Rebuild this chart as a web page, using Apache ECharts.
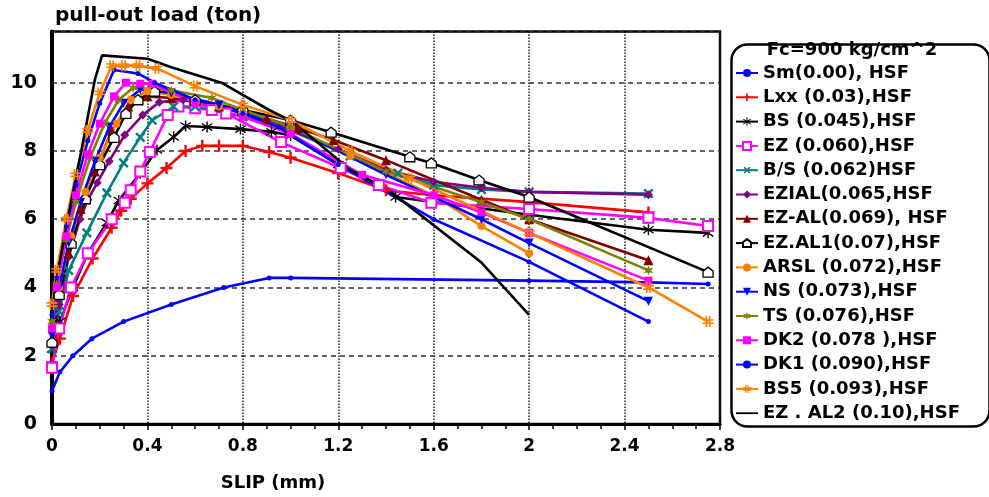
<!DOCTYPE html>
<html>
<head>
<meta charset="utf-8">
<script src="https://cdn.jsdelivr.net/npm/echarts@6/dist/echarts.min.js"></script>
<style>
html,body{margin:0;padding:0;background:#fff;}
#chart{width:989px;height:497px;}
</style>
</head>
<body>
<div id="chart"></div>
<script>
// ---- data: [slip (mm), load (ton)] ----
const names = ['Sm(0.00), HSF','Lxx (0.03),HSF','BS (0.045),HSF','EZ (0.060),HSF','B/S (0.062)HSF','EZIAL(0.065,HSF','EZ-AL(0.069), HSF','EZ.AL1(0.07),HSF','ARSL (0.072),HSF','NS (0.073),HSF','TS (0.076),HSF','DK2 (0.078 ),HSF','DK1 (0.090),HSF','BS5 (0.093),HSF','EZ . AL2 (0.10),HSF'];
const sm    = [[0,0.97],[0.033,1.52],[0.088,2.0],[0.167,2.5],[0.3,3.0],[0.5,3.5],[0.72,4.0],[0.91,4.28],[1.0,4.28],[2.0,4.2],[2.5,4.15],[2.75,4.1]];
const lxx   = [[0,1.8],[0.033,2.5],[0.088,3.75],[0.17,4.85],[0.25,5.75],[0.29,6.25],[0.33,6.6],[0.4,7.05],[0.48,7.5],[0.56,8.0],[0.63,8.15],[0.7,8.15],[0.8,8.15],[0.91,7.97],[1.0,7.8],[1.2,7.35],[1.4,6.85],[1.6,6.7],[2.0,6.5],[2.5,6.2]];
const bs    = [[0,2.2],[0.033,3.0],[0.088,4.0],[0.15,5.0],[0.23,5.9],[0.28,6.55],[0.37,7.35],[0.44,8.03],[0.51,8.41],[0.56,8.73],[0.65,8.7],[0.79,8.64],[0.92,8.56],[1.0,8.45],[1.2,7.6],[1.44,6.65],[2.0,6.13],[2.5,5.69],[2.75,5.6]];
const ez    = [[0,1.65],[0.03,2.8],[0.08,4.0],[0.15,5.0],[0.25,6.0],[0.305,6.48],[0.33,6.85],[0.37,7.4],[0.41,7.97],[0.485,9.05],[0.53,9.3],[0.6,9.25],[0.67,9.2],[0.73,9.1],[0.96,8.26],[1.21,7.5],[1.37,7.0],[1.59,6.48],[2.0,6.3],[2.5,6.04],[2.75,5.8]];
const bslash= [[0,2.2],[0.03,3.3],[0.07,4.5],[0.146,5.6],[0.23,6.77],[0.3,7.65],[0.37,8.4],[0.42,8.9],[0.51,9.3],[0.6,9.3],[0.8,9.0],[1.0,8.6],[1.25,7.85],[1.45,7.35],[1.6,7.0],[1.8,6.87],[2.0,6.8],[2.5,6.75]];
const ezial = [[0,2.3],[0.03,3.5],[0.07,4.9],[0.117,6.0],[0.15,6.57],[0.19,7.07],[0.24,7.7],[0.305,8.47],[0.38,9.05],[0.45,9.43],[0.55,9.5],[0.7,9.3],[0.9,8.9],[1.2,8.05],[1.4,7.45],[1.6,7.1],[1.8,6.92],[2.0,6.8],[2.5,6.72]];
const ezal  = [[0,2.5],[0.03,3.8],[0.07,5.0],[0.12,6.3],[0.18,7.4],[0.25,8.6],[0.32,9.3],[0.4,9.6],[0.5,9.55],[0.7,9.3],[0.9,8.95],[1.03,8.67],[1.18,8.32],[1.4,7.73],[1.8,6.57],[2.0,6.0],[2.5,4.8]];
const ezal1 = [[0,2.4],[0.03,3.8],[0.08,5.3],[0.14,6.6],[0.2,7.6],[0.26,8.4],[0.31,9.1],[0.36,9.5],[0.43,9.75],[0.6,9.5],[0.8,9.2],[1.0,8.9],[1.17,8.55],[1.5,7.83],[1.59,7.65],[1.79,7.15],[2.0,6.65],[2.75,4.45]];
const arsl  = [[0,2.7],[0.03,4.0],[0.08,5.5],[0.14,6.8],[0.2,7.8],[0.27,8.8],[0.33,9.5],[0.4,9.75],[0.5,9.65],[0.7,9.3],[1.0,8.7],[1.25,7.85],[1.6,6.7],[1.8,5.8],[2.0,5.0]];
const ns    = [[0,2.6],[0.03,4.0],[0.07,5.3],[0.12,6.5],[0.18,7.7],[0.24,8.7],[0.3,9.4],[0.37,9.8],[0.5,9.7],[0.7,9.35],[1.0,8.7],[1.4,7.3],[1.8,6.0],[2.0,5.3],[2.5,3.6]];
const ts    = [[0,3.0],[0.02,4.1],[0.06,5.4],[0.1,6.5],[0.16,7.8],[0.22,8.8],[0.28,9.5],[0.34,9.85],[0.5,9.78],[0.67,9.55],[0.8,9.2],[1.0,8.7],[1.4,7.4],[1.8,6.5],[2.0,6.0],[2.5,4.5]];
const dk2   = [[0,2.8],[0.02,4.0],[0.06,5.5],[0.1,6.7],[0.15,7.9],[0.2,8.8],[0.26,9.6],[0.31,10.0],[0.37,9.97],[0.42,9.97],[0.6,9.4],[0.8,9.0],[1.0,8.5],[1.3,7.3],[1.6,6.7],[1.8,6.2],[2.0,5.6],[2.5,4.2]];
const dk1   = [[0,3.2],[0.02,4.3],[0.06,5.8],[0.1,7.0],[0.15,8.3],[0.2,9.4],[0.26,10.37],[0.36,10.27],[0.43,10.0],[0.6,9.5],[0.8,9.1],[0.95,8.7],[1.2,7.6],[1.6,6.0],[2.0,4.75],[2.5,3.0]];
const bs5   = [[0,3.5],[0.02,4.5],[0.06,6.0],[0.1,7.3],[0.15,8.6],[0.2,9.7],[0.25,10.5],[0.3,10.5],[0.36,10.5],[0.44,10.42],[0.6,9.9],[0.8,9.35],[1.0,8.9],[1.25,8.0],[1.5,7.2],[2.0,5.6],[2.5,4.0],[2.75,3.0]];
const ezal2 = [[0,3.0],[0.013,4.0],[0.06,5.8],[0.12,7.9],[0.18,10.1],[0.21,10.8],[0.4,10.7],[0.5,10.45],[0.71,10.0],[0.91,9.2],[1.01,8.85],[1.25,7.45],[1.41,6.86],[1.8,4.73],[2.0,3.2]];
const xTicks = {min:0, max:2.8, interval:0.4};
const yTicks = {min:0, max:11.5, interval:2};

// ---- styling ----
const P_PLUS = 'path://M4,0H6V4H10V6H6V10H4V6H0V4H4Z';
const P_STAR = 'path://M4.4,0H5.6V10H4.4Z M0.4,2.3L1,1.3L9.6,7.7L9,8.7Z M9.6,2.3L9,1.3L0.4,7.7L1,8.7Z';
const P_HASH = 'path://M2.8,0H4.3V10H2.8Z M5.7,0H7.2V10H5.7Z M0,2.8H10V4.3H0Z M0,5.7H10V7.2H0Z';
const P_HOUSE = 'path://M5,0L10,4L10,10L0,10L0,4Z';
const P_SUN = 'path://M5,0L6,3.2L9.3,2L7.2,5L9.3,8L6,6.8L5,10L4,6.8L0.7,8L2.8,5L0.7,2L4,3.2Z';
const P_LINE = 'path://M0,4.1H22V5.9H0Z';

const FONT = 'DejaVu Sans';
const datasets = [sm,lxx,bs,ez,bslash,ezial,ezal,ezal1,arsl,ns,ts,dk2,dk1,bs5,ezal2];
const styles = [
  {c:'#0000ff', s:'circle', z:5},
  {c:'#ff0000', s:P_PLUS, z:12},
  {c:'#000000', s:P_STAR, z:11},
  {c:'#ff00ff', s:'emptyRect', z:10},
  {c:'#008080', s:P_PLUS, z:12, r:45},
  {c:'#800080', s:'diamond', z:9},
  {c:'#800000', s:'triangle', z:10},
  {c:'#000000', s:P_HOUSE, z:10, fill:'#ffffff'},
  {c:'#ff8000', s:'circle', z:8},
  {c:'#0000ff', s:'triangle', z:9, r:180},
  {c:'#808000', s:P_SUN, z:10},
  {c:'#ff00ff', s:'rect', z:8},
  {c:'#0000ff', s:'circle', z:5},
  {c:'#ff8000', s:P_HASH, z:11},
  {c:'#000000', s:'none', z:0}
];

const series = datasets.map((d,i)=>{
  const st = styles[i];
  return {
    name: names[i], type:'line', data:d, smooth:false,
    symbol: st.s, symbolSize: st.z, symbolRotate: st.r||0,
    showSymbol: st.s!=='none',
    lineStyle:{color:st.c, width:2.6},
    itemStyle: st.fill ? {color:st.fill, borderColor:st.c, borderWidth:1.3} : {color:st.c, borderColor:st.c, borderWidth: st.s==='emptyRect'?1.5:0},
    emphasis:{disabled:true}, animation:false, clip:true
  };
});

const legendData = names.map((n,i)=> styles[i].s==='none' ? {name:n, icon:P_LINE, itemStyle:{color:'#000'}} : n);

const chart = echarts.init(document.getElementById('chart'), null, {renderer:'canvas'});
chart.setOption({
  animation:false,
  backgroundColor:'#ffffff',
  grid:{left:52, right:269, top:31.5, bottom:73, show:true, borderColor:'#000', borderWidth:2.5, backgroundColor:'transparent'},
  xAxis:{type:'value', min:xTicks.min, max:xTicks.max, interval:xTicks.interval,
    axisLine:{show:true, onZero:false, lineStyle:{color:'#000', width:3}},
    axisTick:{show:true, length:6, lineStyle:{color:'#000', width:1.5}},
    minorTick:{show:true, splitNumber:4, length:5, lineStyle:{color:'#000', width:1.5}},
    axisLabel:{color:'#000', fontFamily:FONT, fontWeight:'bold', fontSize:17, margin:14, showMaxLabel:true},
    splitLine:{show:true, lineStyle:{color:'#222', width:1.5, type:'dotted'}}
  },
  yAxis:{type:'value', min:yTicks.min, max:yTicks.max, interval:yTicks.interval,
    axisLine:{show:true, onZero:false, lineStyle:{color:'#000', width:4}},
    axisTick:{show:false},
    axisLabel:{color:'#000', fontFamily:FONT, fontWeight:'bold', fontSize:19, margin:15, showMaxLabel:false},
    splitLine:{show:true, lineStyle:{color:'#333', width:1.5, type:[5,4]}}
  },
  legend:{orient:'vertical', left:735, top:64, padding:0, itemWidth:22, itemHeight:10, itemGap:6.3,
    selectedMode:false,
    textStyle:{fontFamily:FONT, fontWeight:'bold', fontSize:18, color:'#000', lineHeight:18},
    data:legendData},
  graphic:[
    {type:'rect', left:729, top:42, shape:{width:258, height:382, r:16}, style:{fill:'none', stroke:'#000', lineWidth:2.5}, z:-1},
    {type:'text', left:55, top:6, style:{text:'pull-out load (ton)', fontFamily:FONT, fontWeight:'bold', fontSize:20, fill:'#000'}},
    {type:'text', x:852, y:50, style:{text:'Fc=900 kg/cm^2', fontFamily:FONT, fontWeight:'bold', fontSize:18, fill:'#000', align:'center', verticalAlign:'middle'}},
    {type:'text', x:273, y:483, style:{text:'SLIP (mm)', fontFamily:FONT, fontWeight:'bold', fontSize:18, fill:'#000', align:'center', verticalAlign:'middle'}}
  ],
  series: series
});
</script>
</body>
</html>
